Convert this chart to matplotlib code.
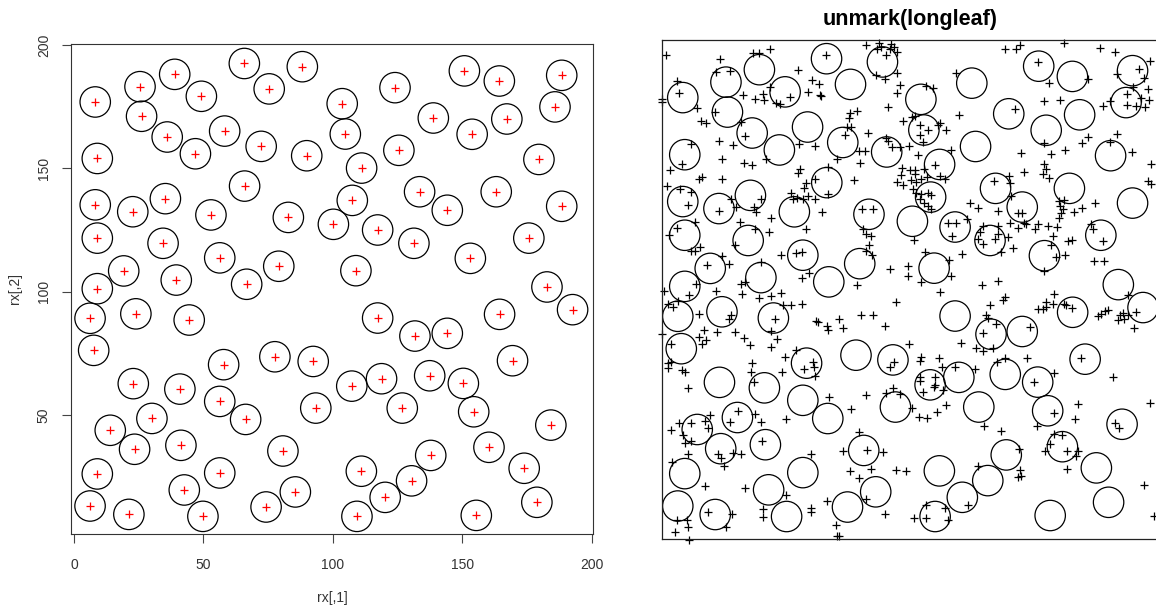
import matplotlib.pyplot as plt
import numpy as np

plt.rcParams['font.family'] = ['Liberation Sans', 'DejaVu Sans']

# simulated pattern rx (shown on both panels as circles)
rx_x = [65.8, 88.2, 38.9, 25.5, 75.4, 8.2, 49.2, 26.1, 58.2, 36.0,
        72.3, 46.9, 89.9, 9.0, 65.9, 35.3, 8.2, 22.7, 52.9, 82.8,
        100.2, 9.0, 34.4, 56.3, 79.1, 19.2, 39.5, 66.7, 9.0,
        150.8, 188.4, 164.3, 124.0, 103.6, 185.8, 138.8, 167.2, 104.8, 153.8,
        125.5, 179.6, 111.1, 133.5, 163.1, 107.5, 188.4, 144.2, 117.3, 131.3,
        175.7, 153.1, 108.9, 182.7,
        6.2, 23.9, 44.5, 7.6, 77.6, 57.8, 92.4, 22.9, 40.9, 56.3,
        93.4, 30.1, 66.3, 14.0, 23.4, 41.3, 80.7, 9.0, 56.3, 42.6,
        85.5, 6.2, 74.2, 21.2, 49.8,
        192.6, 117.3, 164.4, 131.7, 144.2, 169.4, 107.3, 118.8, 137.4, 150.4,
        126.8, 154.4, 184.2, 160.3, 137.8, 111.0, 173.9, 130.4, 120.2, 178.8,
        109.3, 155.4]
rx_y = [192.5, 191.2, 188.1, 183.1, 182.2, 176.9, 179.2, 171.1, 165.1, 162.7,
        158.9, 155.9, 155.1, 154.0, 142.8, 137.7, 135.2, 132.4, 131.1, 130.1,
        127.3, 121.7, 119.6, 113.7, 110.3, 108.4, 104.7, 103.0, 101.2,
        189.5, 187.7, 185.4, 182.7, 176.2, 174.9, 170.4, 170.0, 163.9, 163.8,
        157.3, 153.6, 150.1, 140.5, 140.5, 137.0, 134.6, 133.0, 125.0, 119.6,
        121.7, 113.5, 108.5, 101.9,
        89.2, 91.0, 88.5, 76.2, 73.6, 70.4, 71.7, 62.7, 60.5, 55.5,
        52.8, 48.6, 48.2, 43.8, 36.1, 37.7, 35.4, 26.1, 26.5, 19.6,
        18.8, 13.1, 12.7, 9.7, 8.9,
        92.7, 89.3, 90.8, 82.0, 83.1, 72.0, 61.7, 64.7, 65.9, 62.8,
        52.8, 51.3, 45.9, 36.9, 33.6, 27.2, 28.4, 23.3, 16.6, 14.6,
        8.9, 9.3]

leaf_x_nw = [1.3, 23.3, 43.3, 36.5, 38.8, 21.7, 27.1, 54.4, 5.7, 6.7,
             60.0, 62.7, 43.1, 58.4, 63.3, 63.7, 0.0, 0.0, 32.3, 37.3,
             40.4, 40.8, 45.5, 47.1, 51.1, 14.1, 21.2, 15.7, 17.7, 31.7,
             22.8, 11.3, 28.5, 33.1, 54.7, 61.2, 24.1, 32.8, 36.0, 41.7,
             7.7, 3.1, 15.9, 14.9, 24.1, 54.4, 55.3, 57.7, 56.8, 61.1,
             1.9, 7.2, 11.5, 51.7, 52.4, 54.1, 56.4, 58.4, 61.1, 39.7,
             10.4, 27.5, 29.5, 36.8, 37.5, 22.8, 63.8, 43.7, 57.7, 31.1,
             37.1, 42.7, 6.0, 13.3, 2.7, 15.3, 13.3, 11.3, 29.1, 47.5,
             53.5, 56.1, 24.1, 18.0, 26.7, 39.7, 56.1, 58.8, 13.7, 31.5, 33.3]
leaf_y_nw = [193.9, 192.4, 196.2, 194.8, 194.6, 187.1, 187.6, 187.8, 183.5, 178.8,
             183.9, 182.2, 181.2, 179.2, 177.8, 177.5, 176.4, 175.1, 177.8, 176.4,
             178.2, 175.8, 174.6, 174.4, 177.1, 172.8, 171.1, 167.5, 166.8, 167.1,
             159.5, 158.2, 157.9, 161.5, 158.4, 157.5, 152.2, 150.7, 149.8, 152.4,
             150.2, 147.8, 145.2, 144.2, 144.4, 146.8, 148.2, 142.8, 140.8, 144.2,
             141.5, 140.2, 139.2, 138.8, 136.2, 136.8, 136.2, 137.5, 136.4, 136.2,
             133.9, 136.2, 133.1, 133.2, 131.2, 131.5, 131.2, 128.8, 124.4, 127.2,
             124.4, 123.1, 124.8, 127.2, 121.8, 116.8, 115.5, 115.2, 117.8, 113.8,
             114.6, 114.8, 113.5, 109.9, 110.2, 111.1, 104.6, 106.6, 102.2, 102.2, 102.8]

leaf_x_n = [65.4, 81.5, 86.8, 87.8, 86.0, 91.8, 92.7, 91.1, 94.0, 89.8,
            85.5, 89.1, 94.0, 117.8, 95.1, 94.0, 105.5, 108.4, 90.4, 75.4,
            78.0, 74.8, 101.1, 96.4, 100.2, 103.1, 106.4, 110.4, 111.4, 113.5,
            118.8, 73.8, 75.8, 73.1, 82.4, 89.8, 90.4, 92.2, 95.1, 98.8,
            103.4, 104.4, 78.8, 81.1, 79.4, 69.8, 102.6, 115.8, 109.1, 96.2,
            99.1, 101.1, 101.1, 95.8, 104.7, 106.0, 111.1, 113.1, 94.0, 96.4,
            99.8, 101.8, 103.8, 100.4, 101.8, 103.8, 106.4, 107.8, 103.1, 104.7,
            106.4, 107.8, 76.8, 66.4, 66.4, 80.0, 84.4, 123.1, 126.4, 80.4,
            81.8, 83.8, 82.8, 81.8, 84.2, 114.4, 117.8, 116.2, 122.2, 128.4,
            127.1, 126.4, 128.4, 100.8, 105.1, 120.2, 114.8, 91.4, 98.4, 98.4,
            103.8, 115.8, 78.2, 128.2]
leaf_y_n = [193.9, 197.9, 198.8, 197.2, 196.2, 198.2, 197.2, 196.2, 195.1, 193.9,
            185.8, 184.4, 186.6, 186.8, 181.8, 178.6, 181.5, 180.8, 173.1, 170.6,
            171.5, 168.8, 169.5, 167.5, 169.1, 165.8, 163.8, 165.8, 166.6, 163.8,
            169.8, 165.2, 165.2, 161.9, 162.6, 160.8, 159.5, 157.1, 157.2, 157.5,
            161.8, 159.1, 155.5, 155.5, 150.8, 152.2, 153.9, 155.9, 149.8, 148.6,
            147.8, 147.8, 146.2, 145.8, 148.2, 145.2, 145.5, 144.2, 143.1, 141.8,
            143.8, 143.2, 144.2, 140.2, 138.8, 138.4, 138.8, 137.8, 136.2, 134.8,
            133.5, 132.2, 143.9, 149.1, 138.4, 132.4, 132.4, 134.8, 132.8, 124.2,
            122.2, 121.2, 117.8, 115.5, 113.9, 126.8, 126.6, 121.5, 128.4, 125.5,
            122.8, 120.2, 118.2, 119.9, 114.8, 114.2, 111.8, 108.2, 109.5, 105.2,
            103.1, 105.5, 101.8, 101.8]

leaf_x_ne = [137.4, 141.8, 143.5, 161.1, 175.5, 181.5, 150.4, 170.4, 154.8, 182.2,
             191.1, 195.4, 192.8, 188.4, 186.2, 194.4, 191.8, 195.1, 179.5, 176.4,
             186.2, 189.8, 193.4, 141.5, 152.8, 159.5, 152.8, 168.0, 170.4, 182.2,
             179.5, 188.2, 143.8, 155.8, 161.5, 195.8, 145.1, 153.1, 153.8, 152.4,
             155.1, 194.7, 195.8, 132.8, 139.1, 139.5, 139.8, 134.4, 142.4, 144.0,
             159.1, 161.1, 159.5, 160.4, 159.8, 159.1, 165.1, 168.2, 173.4, 171.8,
             172.4, 176.7, 134.4, 134.4, 138.4, 133.1, 135.8, 140.4, 139.5, 142.4,
             145.1, 145.8, 149.4, 150.4, 154.4, 158.2, 156.4, 155.8, 157.8, 161.5,
             162.4, 164.0, 153.1, 173.1, 177.1, 134.4]
leaf_y_ne = [196.4, 196.2, 197.9, 198.8, 196.6, 195.1, 191.2, 184.2, 182.8, 186.4,
             188.2, 191.5, 184.8, 181.2, 178.2, 180.2, 176.8, 175.9, 175.5, 173.5,
             173.8, 173.5, 173.1, 172.4, 175.5, 175.9, 158.8, 158.8, 161.1, 162.2,
             159.1, 155.1, 154.8, 154.4, 155.9, 150.4, 147.2, 150.2, 148.2, 146.2,
             144.6, 143.5, 142.2, 143.5, 145.5, 142.6, 137.5, 131.5, 130.8, 130.8,
             135.5, 135.9, 133.5, 132.2, 130.8, 128.8, 131.2, 132.8, 134.8, 126.2,
             124.4, 119.5, 125.5, 122.2, 120.8, 120.2, 115.1, 116.6, 126.8, 124.6,
             126.8, 126.2, 124.2, 126.2, 125.5, 125.2, 121.5, 117.8, 113.1, 113.9,
             119.5, 119.9, 107.5, 111.5, 111.5, 103.5]

leaf_x_sw = [0.7, 10.7, 21.7, 32.0, 38.7, 43.5, 47.7, 48.4, 51.5, 56.1,
             4.4, 2.4, 6.1, 14.7, 27.5, 26.7, 0.0, 16.8, 22.1, 29.1,
             32.8, 35.1, 14.7, 16.0, 17.7, 43.7, 46.1, 43.7, 45.3, 61.7,
             62.4, 3.3, 2.1, 3.5, 2.4, 7.7, 9.1, 53.7, 49.3, 36.1,
             35.7, 36.8, 48.1, 56.8, 60.4, 60.7, 61.3, 10.4, 19.1, 17.1,
             18.4, 11.3, 6.7, 3.5, 8.1, 9.1, 11.3, 30.4, 27.1, 37.1,
             39.5, 49.7, 40.0, 10.4, 22.4, 23.7, 24.7, 28.4, 31.7, 3.7,
             17.3, 33.3, 49.5, 59.5, 18.4, 28.1, 25.7, 40.4, 40.4, 59.7,
             59.7, 5.7, 9.7, 10.4, 5.1, 10.7]
leaf_y_sw = [99.2, 97.6, 99.2, 98.3, 96.7, 97.4, 98.7, 93.9, 93.9, 94.3,
             93.0, 94.3, 95.2, 90.3, 89.6, 88.3, 81.9, 83.6, 83.0, 83.0,
             80.6, 77.6, 80.7, 77.9, 79.6, 83.2, 80.0, 77.0, 88.3, 87.4,
             87.0, 77.9, 70.3, 71.0, 68.3, 67.6, 67.0, 75.6, 73.0, 70.3,
             67.0, 63.0, 67.0, 68.0, 71.0, 69.0, 65.4, 60.6, 49.6, 47.2,
             44.3, 46.3, 46.3, 43.6, 41.6, 38.3, 39.0, 51.2, 47.0, 49.9,
             47.0, 47.9, 39.0, 33.9, 34.0, 32.3, 29.0, 34.3, 34.0, 30.7,
             21.0, 20.3, 17.4, 33.9, 10.7, 10.0, 4.6, 12.0, 8.6, 12.3,
             10.7, 7.4, 7.4, 4.6, 2.7, -0.6]

leaf_x_s = [111.1, 93.5, 79.8, 84.4, 70.8, 66.0, 66.4, 72.4, 89.1, 129.8,
            128.4, 119.8, 125.5, 128.4, 98.8, 103.8, 103.1, 110.8, 112.2, 117.1,
            125.1, 92.7, 91.1, 103.1, 103.4, 109.1, 109.1, 108.7, 104.4, 112.4,
            92.4, 89.8, 95.4, 81.5, 66.8, 75.8, 100.2, 102.8, 106.0, 110.0,
            113.8, 128.7, 78.8, 72.4, 82.2, 88.4, 83.8, 75.4, 78.8, 93.5,
            97.5, 126.4, 66.0, 81.8, 89.1, 69.5, 70.8, 69.8, 105.8, 113.1,
            122.4, 100.7, 105.5, 114.4]
leaf_y_s = [99.0, 95.0, 89.9, 89.9, 88.0, 85.4, 83.6, 84.6, 85.2, 89.6,
            82.3, 78.6, 76.3, 75.2, 78.0, 73.0, 71.2, 72.3, 69.0, 68.7,
            68.0, 70.7, 69.0, 65.0, 63.2, 65.0, 61.6, 61.0, 58.7, 59.6,
            60.6, 58.6, 58.0, 57.6, 57.0, 52.0, 52.6, 49.0, 48.3, 50.7,
            53.6, 45.0, 42.7, 35.2, 35.4, 34.6, 27.9, 27.2, 24.3, 27.6,
            27.0, 29.0, 15.2, 16.0, 10.0, 5.6, 1.2, 1.0, 13.6, 12.3,
            13.4, 8.3, 8.3, 7.6]

leaf_x_se = [131.1, 136.4, 137.4, 156.8, 153.8, 156.4, 130.4, 133.8, 150.4, 152.4,
             153.8, 160.8, 161.8, 164.0, 174.4, 175.8, 177.4, 178.7, 182.4, 183.5,
             184.4, 185.1, 186.4, 186.7, 189.8, 189.1, 147.5, 132.4, 134.2, 137.4,
             146.2, 157.1, 148.8, 167.8, 180.4, 166.7, 156.8, 165.4, 150.2, 195.4,
             181.4, 182.8, 135.8, 157.1, 160.0, 155.5, 153.4, 162.2, 166.7, 165.8,
             162.2, 142.8, 143.5, 142.4, 143.8, 192.8, 197.1]
leaf_y_se = [93.9, 95.6, 97.0, 98.3, 95.0, 94.3, 88.6, 86.3, 92.0, 92.0,
             93.0, 94.3, 93.6, 92.6, 89.4, 90.3, 91.2, 91.6, 87.6, 89.6,
             90.7, 88.3, 89.9, 97.6, 91.0, 84.3, 85.0, 76.3, 71.0, 72.6,
             72.6, 66.3, 62.7, 72.3, 65.0, 53.9, 50.6, 47.9, 45.0, 54.3,
             46.3, 44.3, 43.2, 42.0, 41.4, 38.0, 35.2, 35.0, 35.0, 33.0,
             28.0, 36.0, 27.6, 24.6, 25.0, 21.4, 9.0]

leaf_x = np.concatenate([leaf_x_nw, leaf_x_n, leaf_x_ne, leaf_x_sw, leaf_x_s, leaf_x_se])
leaf_y = np.concatenate([leaf_y_nw, leaf_y_n, leaf_y_ne, leaf_y_sw, leaf_y_s, leaf_y_se])

W, H = 1156, 609
fig = plt.figure(figsize=(W / 100, H / 100), dpi=100)

# left panel: plot(rx) with circles
ax1 = fig.add_axes([71 / W, 1 - 533.5 / H, 522.3 / W, 489.5 / H])
ax1.scatter(rx_x, rx_y, s=480, facecolors='none', edgecolors='black', linewidths=0.9)
ax1.scatter(rx_x, rx_y, marker='+', s=34, c='red', linewidths=0.9)
ax1.set_xlim(-1.16, 200.6)
ax1.set_ylim(1.95, 200.4)
ax1.set_xticks([0, 50, 100, 150, 200])
ax1.set_yticks([50, 100, 150, 200])
ax1.set_yticklabels(['50', '100', '150', '200'], rotation=90, va='center')
ax1.tick_params(direction='out', length=6.5, width=0.8, color='#444444',
                labelsize=10, labelcolor='#333333', pad=11)
ax1.tick_params(axis='y', pad=8)
for sp in ax1.spines.values():
    sp.set_linewidth(0.8)
    sp.set_color('#333333')
ax1.set_xlabel('rx[,1]', fontsize=10, color='#333333')
ax1.set_ylabel('rx[,2]', fontsize=10, color='#333333')
ax1.xaxis.set_label_coords(0.5, -0.118)
ax1.yaxis.set_label_coords(-0.094, 0.5)

# right panel: unmark(longleaf) with the same circles
ax2 = fig.add_axes([662.3 / W, 1 - 538.7 / H, 499.2 / W, 498.7 / H])
ax2.scatter(rx_x, rx_y, s=480, facecolors='none', edgecolors='black', linewidths=0.9)
ax2.scatter(leaf_x, leaf_y, marker='+', s=40, c='black', linewidths=0.9, clip_on=False)
ax2.set_xlim(0, 200)
ax2.set_ylim(0, 200)
ax2.set_xticks([])
ax2.set_yticks([])
for sp in ax2.spines.values():
    sp.set_linewidth(0.9)
    sp.set_color('#222222')

fig.text(910 / W, 1 - 19 / H, 'unmark(longleaf)', fontsize=15.5, fontweight='bold',
         ha='center', va='center')

fig.savefig('out.png', dpi=100)
